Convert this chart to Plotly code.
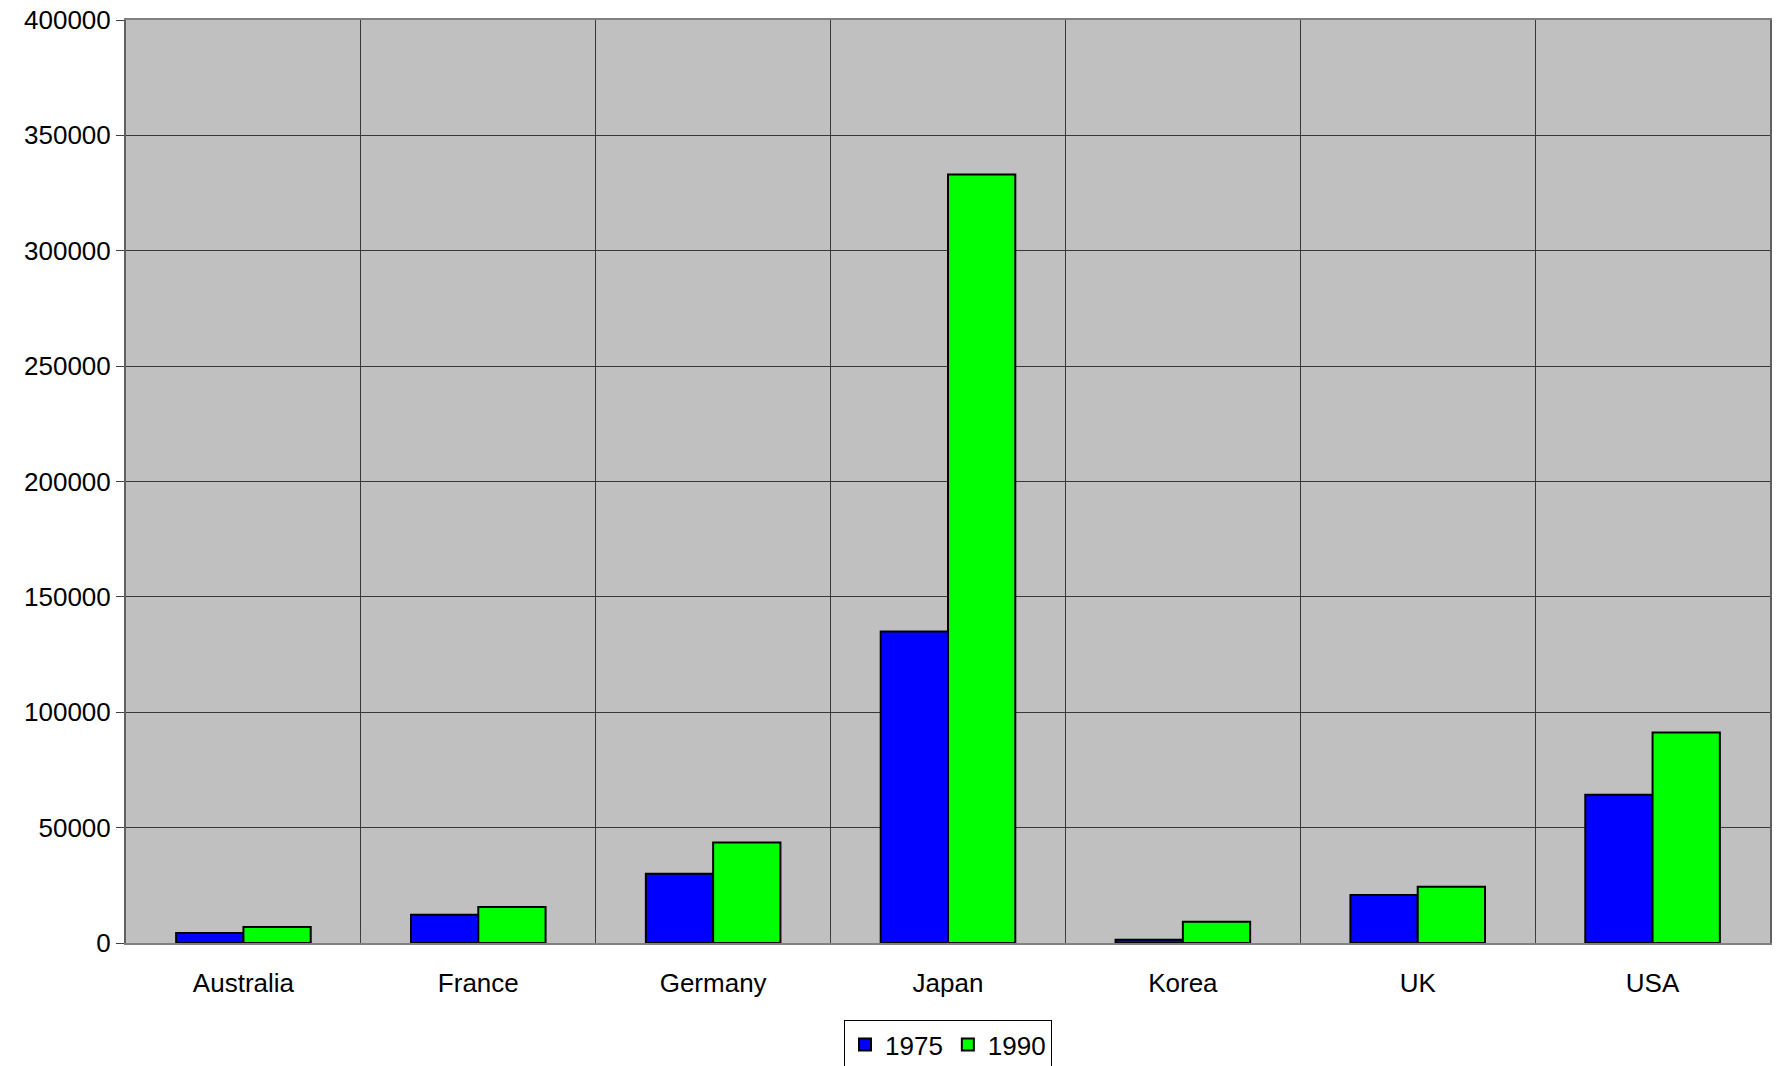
import plotly.graph_objects as go

# Country totals for two reference years
countries = ["Australia", "France", "Germany", "Japan", "Korea", "UK", "USA"]
values_1975 = [4300, 12200, 30000, 135000, 1400, 20800, 64300]
values_1990 = [6900, 15600, 43500, 333000, 9200, 24400, 91200]

y_ticks = [0, 50000, 100000, 150000, 200000, 250000, 300000, 350000, 400000]

FONT = "Liberation Sans, Arial, sans-serif"

fig = go.Figure()
fig.add_trace(go.Bar(
    x=countries, y=values_1975, name="1975",
    marker=dict(color="#0000FF", line=dict(color="#000000", width=2)),
))
fig.add_trace(go.Bar(
    x=countries, y=values_1990, name="1990",
    marker=dict(color="#00FF00", line=dict(color="#000000", width=2)),
))

fig.update_layout(
    width=1778, height=1066,
    margin=dict(l=126, r=8, t=20, b=123, autoexpand=False),
    paper_bgcolor="#FFFFFF",
    plot_bgcolor="#C0C0C0",
    barmode="group",
    bargap=0.427,
    bargroupgap=0,
    font=dict(family=FONT, size=26, color="#000000"),
    showlegend=True,
    legend=dict(
        orientation="h",
        x=0.5, xanchor="center", xref="paper",
        y=0.043, yanchor="top", yref="container",
        bordercolor="#000000", borderwidth=1,
        bgcolor="#FFFFFF",
        font=dict(family=FONT, size=26),
        traceorder="normal",
    ),
)

fig.update_xaxes(
    type="category",
    tickson="boundaries",
    showgrid=True, gridcolor="#383838", gridwidth=1,
    ticks="inside", ticklen=8, tickcolor="#404040",
    showline=True, linecolor="#808080", linewidth=2, mirror=True,
    tickfont=dict(family=FONT, size=26),
    ticklabelstandoff=16,
)
fig.update_yaxes(
    range=[0, 400000],
    tickvals=y_ticks,
    ticktext=[str(v) for v in y_ticks],
    showgrid=True, gridcolor="#383838", gridwidth=1,
    zeroline=False,
    ticks="outside", ticklen=8, tickcolor="#404040",
    showline=True, linecolor="#606060", linewidth=2, mirror=True,
    tickfont=dict(family=FONT, size=26),
)

fig.write_html("out.html")
